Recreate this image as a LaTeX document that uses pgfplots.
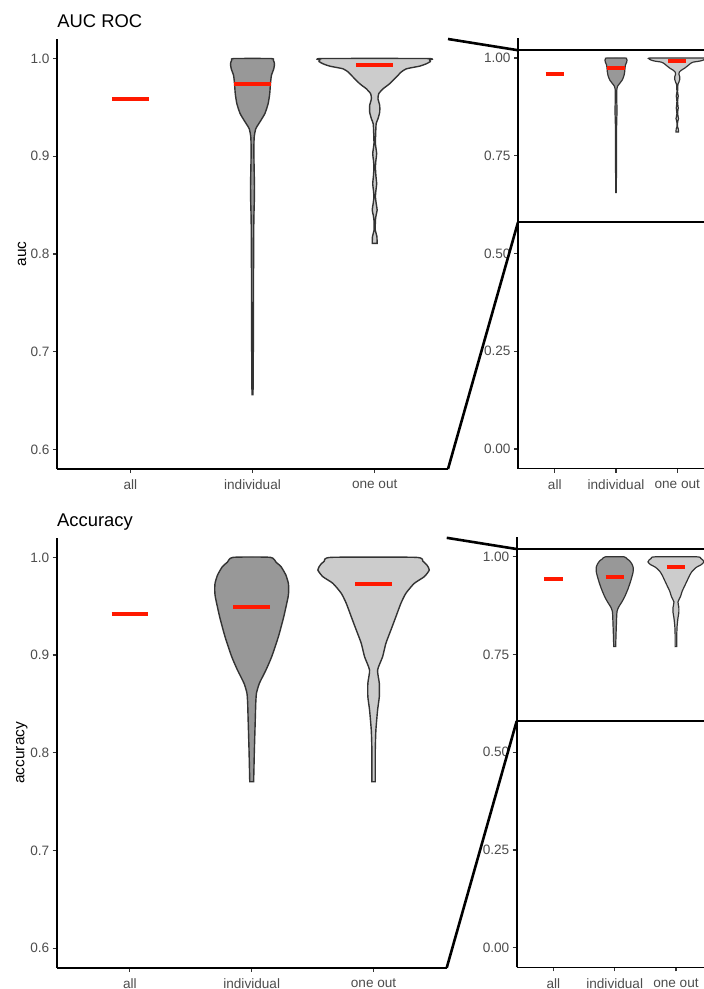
\documentclass[border=0pt]{standalone}
\usepackage{pgfplots}
\pgfplotsset{compat=1.18}
\usepackage{pgfplotstable}
\usepackage{fontspec}
\setmainfont{Liberation Sans}
\definecolor{indiv}{HTML}{989898}
\definecolor{oneout}{HTML}{CCCCCC}
\definecolor{outl}{HTML}{333333}
\definecolor{medred}{RGB}{255,25,0}
\definecolor{ticktext}{HTML}{4D4D4D}

\pgfplotstableread{
y w
0.656 0.004
0.680 0.006
0.720 0.007
0.760 0.008
0.800 0.009
0.835 0.011
0.855 0.015
0.870 0.016
0.890 0.013
0.906 0.011
0.9197 0.014
0.9282 0.027
0.935 0.060
0.9436 0.101
0.9538 0.128
0.964 0.141
0.9742 0.147
0.9827 0.155
0.9895 0.174
0.9946 0.180
0.9985 0.170
1.000 0.152
1.000 -0.152
0.9985 -0.170
0.9946 -0.180
0.9895 -0.174
0.9827 -0.155
0.9742 -0.147
0.964 -0.141
0.9538 -0.128
0.9436 -0.101
0.935 -0.060
0.9282 -0.027
0.9197 -0.014
0.906 -0.011
0.890 -0.013
0.870 -0.016
0.855 -0.015
0.835 -0.011
0.800 -0.009
0.760 -0.008
0.720 -0.007
0.680 -0.006
0.656 -0.004
}\aucind

\pgfplotstableread{
y w
0.8109 0.020
0.818 0.018
0.8245 0.005
0.8347 0.006
0.840 0.012
0.845 0.020
0.852 0.012
0.8585 0.006
0.865 0.010
0.872 0.016
0.880 0.010
0.889 0.006
0.896 0.010
0.9027 0.016
0.913 0.006
0.923 0.008
0.9333 0.012
0.9384 0.027
0.9452 0.041
0.952 0.041
0.9589 0.027
0.964 0.033
0.969 0.068
0.9742 0.122
0.9827 0.190
0.9860 0.215
0.9895 0.259
0.9922 0.367
0.9945 0.420
0.9969 0.455
0.9985 0.450
1.000 0.430
1.000 -0.430
0.9985 -0.450
0.9969 -0.455
0.9945 -0.420
0.9922 -0.367
0.9895 -0.259
0.9860 -0.215
0.9827 -0.190
0.9742 -0.122
0.969 -0.068
0.964 -0.033
0.9589 -0.027
0.952 -0.041
0.9452 -0.041
0.9384 -0.027
0.9333 -0.012
0.923 -0.008
0.913 -0.006
0.9027 -0.016
0.896 -0.010
0.889 -0.006
0.880 -0.010
0.872 -0.016
0.865 -0.010
0.8585 -0.006
0.852 -0.012
0.845 -0.020
0.840 -0.012
0.8347 -0.006
0.8245 -0.005
0.818 -0.018
0.8109 -0.020
}\aucone

\pgfplotstableread{
y w
0.7704 0.016
0.8029 0.022
0.837 0.030
0.850 0.033
0.8609 0.039
0.8711 0.063
0.8847 0.117
0.8983 0.164
0.9188 0.219
0.9392 0.263
0.9597 0.299
0.9660 0.303
0.9734 0.301
0.9820 0.280
0.9904 0.241
0.9950 0.200
1.000 0.153
1.000 -0.153
0.9950 -0.200
0.9904 -0.241
0.9820 -0.280
0.9734 -0.301
0.9660 -0.303
0.9597 -0.299
0.9392 -0.263
0.9188 -0.219
0.8983 -0.164
0.8847 -0.117
0.8711 -0.063
0.8609 -0.039
0.850 -0.033
0.837 -0.030
0.8029 -0.022
0.7704 -0.016
}\accind

\pgfplotstableread{
y w
0.7704 0.014
0.8029 0.014
0.8233 0.019
0.8438 0.033
0.8574 0.047
0.8711 0.047
0.8847 0.033
0.8983 0.074
0.912 0.101
0.9256 0.142
0.9392 0.183
0.9529 0.224
0.9632 0.265
0.9734 0.334
0.9802 0.416
0.987 0.457
0.9921 0.438
0.996 0.405
1.000 0.347
1.000 -0.347
0.996 -0.405
0.9921 -0.438
0.987 -0.457
0.9802 -0.416
0.9734 -0.334
0.9632 -0.265
0.9529 -0.224
0.9392 -0.183
0.9256 -0.142
0.912 -0.101
0.8983 -0.074
0.8847 -0.033
0.8711 -0.047
0.8574 -0.047
0.8438 -0.033
0.8233 -0.019
0.8029 -0.014
0.7704 -0.014
}\accone

\pgfplotsset{
 base/.style={
  scale only axis,
  axis lines=left,
  axis line style={-, line width=0.8pt, black},
  tick style={line width=0.6pt, black!80},
  tick align=outside,
  major tick length=2pt,
  xmin=0.4, xmax=3.6,
  xtick={1,2,3},
  xticklabels={all,individual,one out},
  ticklabel style={font=\fontsize{6.8}{7}\selectfont, text=ticktext},
  yticklabel style={xshift=1.8pt},
  /pgf/number format/assume math mode=true,
  clip=false,
  ylabel style={at={(axis description cs:-0.0895,0.5)}, anchor=center, font=\fontsize{7.7}{8}\selectfont},
  title style={at={(axis description cs:0,1)}, anchor=base west, inner sep=0pt, yshift=-0.15pt, font=\fontsize{9.2}{10}\selectfont},
 },
 mainax/.style={base, width=195.5pt, height=215pt, ymin=0.58, ymax=1.02,
   ytick={0.6,0.7,0.8,0.9,1.0}, yticklabels={0.6,0.7,0.8,0.9,1.0}},
 zoomax/.style={base, width=98pt, height=215pt, ymin=-0.05, ymax=1.05,
   ytick={0,0.25,0.5,0.75,1}, yticklabels={0.00,0.25,0.50,0.75,1.00}},
 violin/.style={draw=outl, line width=0.7pt, smooth, tension=0.35},
 median/.style={medred, line width=2pt},
}

\begin{document}
\begin{tikzpicture}
% ---------- AUC main ----------
\begin{axis}[mainax, at={(28.5pt,-234.5pt)}, anchor=south west, title={AUC ROC}, ylabel={auc}]
\addplot[violin, fill=indiv] table[x expr=2+\thisrow{w}, y=y] {\aucind} -- cycle;
\addplot[violin, fill=oneout] table[x expr=3+\thisrow{w}, y=y] {\aucone} -- cycle;
\addplot[median] coordinates {(0.85,0.959) (1.15,0.959)};
\addplot[median] coordinates {(1.85,0.9735) (2.15,0.9735)};
\addplot[median] coordinates {(2.85,0.9935) (3.15,0.9935)};
\coordinate (M1t) at (rel axis cs:1,1);
\coordinate (M1b) at (rel axis cs:1,0);
\end{axis}
% ---------- AUC zoomed out ----------
\begin{axis}[zoomax, at={(259pt,-234.25pt)}, anchor=south west]
\addplot[violin, fill=indiv, line width=0.6pt] table[x expr=2+\thisrow{w}, y=y] {\aucind} -- cycle;
\addplot[violin, fill=oneout, line width=0.6pt] table[x expr=3+\thisrow{w}, y=y] {\aucone} -- cycle;
\addplot[median] coordinates {(0.85,0.959) (1.15,0.959)};
\addplot[median] coordinates {(1.85,0.9735) (2.15,0.9735)};
\addplot[median] coordinates {(2.85,0.9935) (3.15,0.9935)};
\draw[line width=1.2pt] (axis cs:0.4,0.58) rectangle (axis cs:3.6,1.02);
\coordinate (Z1t) at (axis cs:0.4,1.02);
\coordinate (Z1b) at (axis cs:0.4,0.58);
\end{axis}
\draw[line width=1.3pt] (M1t) -- (Z1t);
\draw[line width=1.3pt] (M1b) -- (Z1b);

% ---------- Accuracy main ----------
\begin{axis}[mainax, width=195pt, at={(28.35pt,-483.9pt)}, anchor=south west, title={Accuracy}, ylabel={accuracy}]
\addplot[violin, fill=indiv] table[x expr=2+\thisrow{w}, y=y] {\accind} -- cycle;
\addplot[violin, fill=oneout] table[x expr=3+\thisrow{w}, y=y] {\accone} -- cycle;
\addplot[median] coordinates {(0.85,0.9423) (1.15,0.9423)};
\addplot[median] coordinates {(1.85,0.9491) (2.15,0.9491)};
\addplot[median] coordinates {(2.85,0.973) (3.15,0.973)};
\coordinate (M2t) at (rel axis cs:1,1);
\coordinate (M2b) at (rel axis cs:1,0);
\end{axis}
% ---------- Accuracy zoomed out ----------
\begin{axis}[zoomax, at={(258.35pt,-483.65pt)}, anchor=south west]
\addplot[violin, fill=indiv, line width=0.6pt] table[x expr=2+\thisrow{w}, y=y] {\accind} -- cycle;
\addplot[violin, fill=oneout, line width=0.6pt] table[x expr=3+\thisrow{w}, y=y] {\accone} -- cycle;
\addplot[median] coordinates {(0.85,0.9423) (1.15,0.9423)};
\addplot[median] coordinates {(1.85,0.9491) (2.15,0.9491)};
\addplot[median] coordinates {(2.85,0.973) (3.15,0.973)};
\draw[line width=1.2pt] (axis cs:0.4,0.58) rectangle (axis cs:3.6,1.02);
\coordinate (Z2t) at (axis cs:0.4,1.02);
\coordinate (Z2b) at (axis cs:0.4,0.58);
\end{axis}
\draw[line width=1.3pt] (M2t) -- (Z2t);
\draw[line width=1.3pt] (M2b) -- (Z2b);

\pgfresetboundingbox
\path[use as bounding box] (0pt,0pt) rectangle (352pt,-494.5pt);
\end{tikzpicture}
\end{document}
